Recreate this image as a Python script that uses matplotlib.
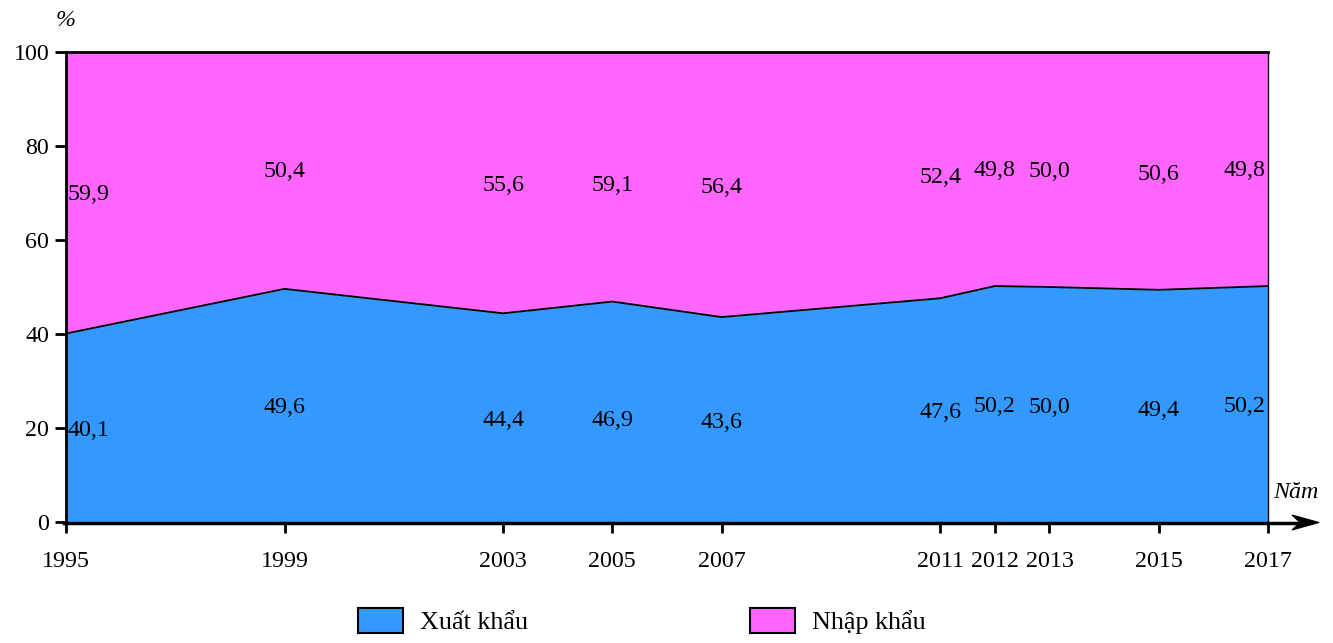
import matplotlib
matplotlib.use("Agg")
import matplotlib.pyplot as plt
from matplotlib.patches import Patch, Polygon

# Cơ cấu giá trị xuất, nhập khẩu (%)
years = [1995, 1999, 2003, 2005, 2007, 2011, 2012, 2013, 2015, 2017]
export_share = [40.1, 49.6, 44.4, 46.9, 43.6, 47.6, 50.2, 50.0, 49.4, 50.2]
import_share = [59.9, 50.4, 55.6, 59.1, 56.4, 52.4, 49.8, 50.0, 50.6, 49.8]
series_names = ["Xuất khẩu", "Nhập khẩu"]
y_ticks = [0, 20, 40, 60, 80, 100]

# Heights at which the value labels sit inside each band
import_label_y = [69.6, 74.5, 71.5, 71.5, 71.1, 73.4, 74.7, 74.5, 74.0, 74.7]
export_label_y = [19.4, 24.3, 21.5, 21.7, 21.1, 23.4, 24.5, 24.3, 23.8, 24.5]

blue = "#3399FF"
magenta = "#FF66FF"
FS = 17.3
LEG_FS = 18.8

plt.rcParams["font.family"] = ["Liberation Serif", "DejaVu Serif"]
plt.rcParams["font.size"] = FS

W, H = 1333, 643
fig = plt.figure(figsize=(W / 100, H / 100), dpi=100)
ax = fig.add_axes([66 / W, 1 - 522 / H, (1268 - 66) / W, (522 - 52) / H])

ax.fill_between(years, 0, export_share, color=blue, linewidth=0)
ax.fill_between(years, export_share, 100, color=magenta, linewidth=0)
ax.plot(years, export_share, color="black", lw=1.3)

ax.set_xlim(years[0], years[-1])
ax.set_ylim(0, 100)
ax.set_xticks(years)
ax.set_xticklabels([str(y) for y in years])
ax.set_yticks(y_ticks)
ax.tick_params(axis="both", direction="out", length=8, width=2, labelsize=FS)
ax.tick_params(axis="y", pad=4)
ax.tick_params(axis="x", pad=13)

for side in ["left", "top"]:
    ax.spines[side].set_linewidth(2)
ax.spines["right"].set_linewidth(1)
ax.spines["bottom"].set_visible(False)


def px(x, y):
    return (x / W, 1 - y / H)


# Horizontal axis line extended to an arrow head
axis_y = 522.5
fig.add_artist(plt.Line2D([px(64, axis_y)[0], px(1302, axis_y)[0]],
                          [px(64, axis_y)[1]] * 2, color="black", lw=2.5))
head = [px(1319, axis_y), px(1292, axis_y - 7.5), px(1300, axis_y), px(1292, axis_y + 7.5)]
fig.add_artist(Polygon(head, closed=True, transform=fig.transFigure,
                       facecolor="black", edgecolor="black", lw=0.8))

# Value labels
n = len(years)
for i, (yr, ex, im) in enumerate(zip(years, export_share, import_share)):
    if i == 0:
        ha, dx = "left", 0.03
    elif i == n - 1:
        ha, dx = "right", -0.05
    else:
        ha, dx = "center", 0
    ax.text(yr + dx, import_label_y[i], f"{im:.1f}".replace(".", ","),
            ha=ha, va="center", fontsize=FS)
    ax.text(yr + dx, export_label_y[i], f"{ex:.1f}".replace(".", ","),
            ha=ha, va="center", fontsize=FS)

# Axis titles
fig.text(66 / W, 1 - 20 / H, "%", style="italic", fontsize=FS, ha="center", va="center")
fig.text(1296 / W, 1 - 492 / H, "Năm", style="italic", fontsize=FS, ha="center", va="center")

handles = [Patch(facecolor=blue, edgecolor="black", lw=1.5, label=series_names[0]),
           Patch(facecolor=magenta, edgecolor="black", lw=1.5, label=series_names[1])]
fig.legend(handles=handles, loc="center", bbox_to_anchor=(642 / W, 1 - 621 / H),
           ncol=2, frameon=False, fontsize=LEG_FS, handlelength=1.73, handleheight=1.08,
           handletextpad=0.65, columnspacing=8.5)

fig.savefig("out.png", dpi=100)
